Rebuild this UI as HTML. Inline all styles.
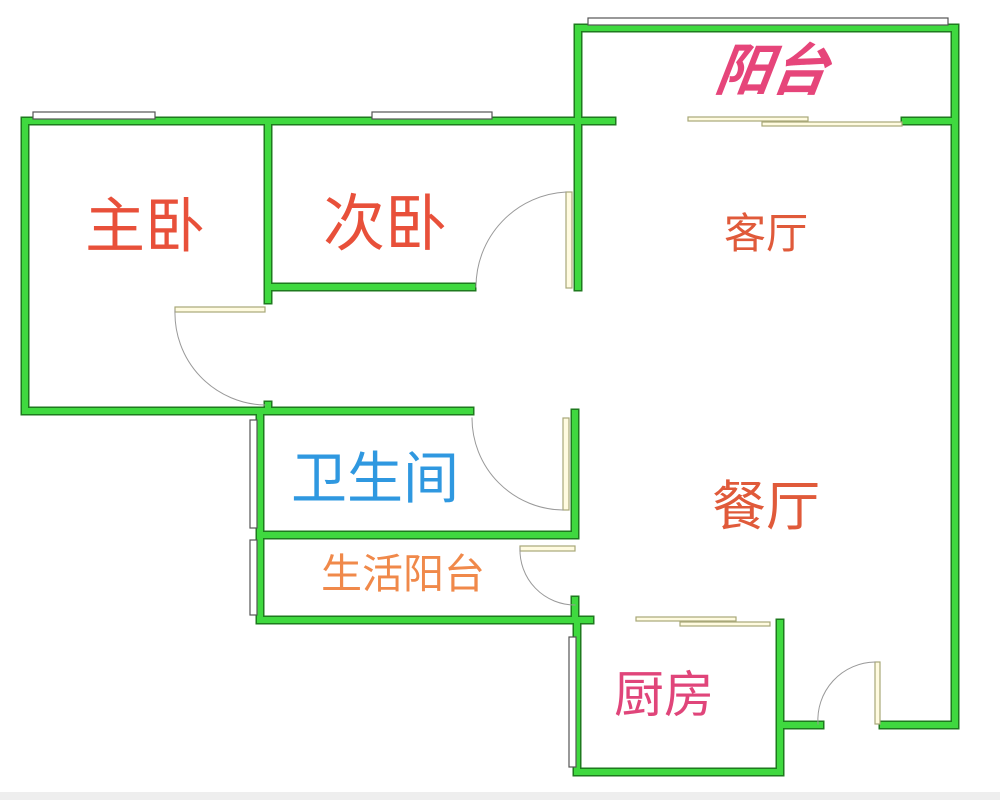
<!DOCTYPE html>
<html><head><meta charset="utf-8"><style>
body{margin:0;background:#fff;width:1000px;height:800px;overflow:hidden}
svg{position:absolute;left:0;top:0}
text{font-family:"Liberation Sans","Noto Sans CJK SC",sans-serif;text-anchor:middle}
</style></head><body>
<svg width="1000" height="800" viewBox="0 0 1000 800">
<rect width="1000" height="800" fill="#fff"/>
<rect x="0" y="792" width="1000" height="8" fill="#eee"/>
<g fill="none" stroke-linecap="square">
<g stroke="#1e7a1e" stroke-width="9">
<path d="M25 121H612 M25 121V411H470 M268 121V300 M268 405V411 M268 287H472 M578 28V287 M578 28H955V725 M905 121H955 M883 725H955 M783 725H820 M780 623V772H577V620 M577 620H590 M260 620H577 M260 413V620 M260 535H575 M575 413V535 M575 600V620 M580 121H612"/>
</g>
<g stroke="#3fd93f" stroke-width="6">
<path d="M25 121H612 M25 121V411H470 M268 121V300 M268 405V411 M268 287H472 M578 28V287 M578 28H955V725 M905 121H955 M883 725H955 M783 725H820 M780 623V772H577V620 M577 620H590 M260 620H577 M260 413V620 M260 535H575 M575 413V535 M575 600V620 M580 121H612"/>
</g>
<g stroke="#555" stroke-width="1.2" fill="#fff">
<rect x="33" y="112" width="122" height="7"/><rect x="372" y="112" width="120" height="7"/>
<rect x="588" y="18" width="360" height="7"/>
<rect x="250" y="420" width="7" height="108"/><rect x="250" y="540" width="7" height="75"/>
<rect x="569" y="637" width="7" height="130"/>
</g>
<g stroke="#a8a878" stroke-width="1.2" fill="#fffbe0">
<rect x="566" y="192" width="6" height="96"/>
<rect x="175" y="307" width="90" height="5"/>
<rect x="563" y="418" width="6" height="92"/>
<rect x="520" y="546" width="55" height="5"/>
<rect x="636" y="617" width="100" height="4"/><rect x="680" y="622" width="90" height="4"/>
<rect x="688" y="117" width="120" height="4"/><rect x="762" y="122" width="140" height="4"/>
<rect x="875" y="662" width="5" height="62"/>
</g>
<g stroke="#999" stroke-width="1" fill="none">
<path d="M566 192 A95 95 0 0 0 476 287"/>
<path d="M175 310 A92 92 0 0 0 265 405"/>
<path d="M563 510 A92 92 0 0 1 472 418"/>
<path d="M520 548 A55 55 0 0 0 575 605"/>
<path d="M875 662 A58 58 0 0 0 818 724"/>
</g>
</g>
<text x="145" y="247" font-size="60" fill="#e8503a">主卧</text>
<text x="385" y="245" font-size="62" fill="#e8503a">次卧</text>
<text x="766" y="248" font-size="42" fill="#e05a3a">客厅</text>
<text x="772" y="90" font-size="56" font-weight="bold" font-style="italic" fill="#e6457a" transform="skewX(-8) translate(10,0)">阳台</text>
<text x="375" y="498" font-size="56" fill="#2f98e0">卫生间</text>
<text x="766" y="525" font-size="54" fill="#e05a3a">餐厅</text>
<text x="403" y="588" font-size="41" fill="#f0894a">生活阳台</text>
<text x="664" y="712" font-size="50" fill="#e0457a">厨房</text>
</svg>
</body></html>
